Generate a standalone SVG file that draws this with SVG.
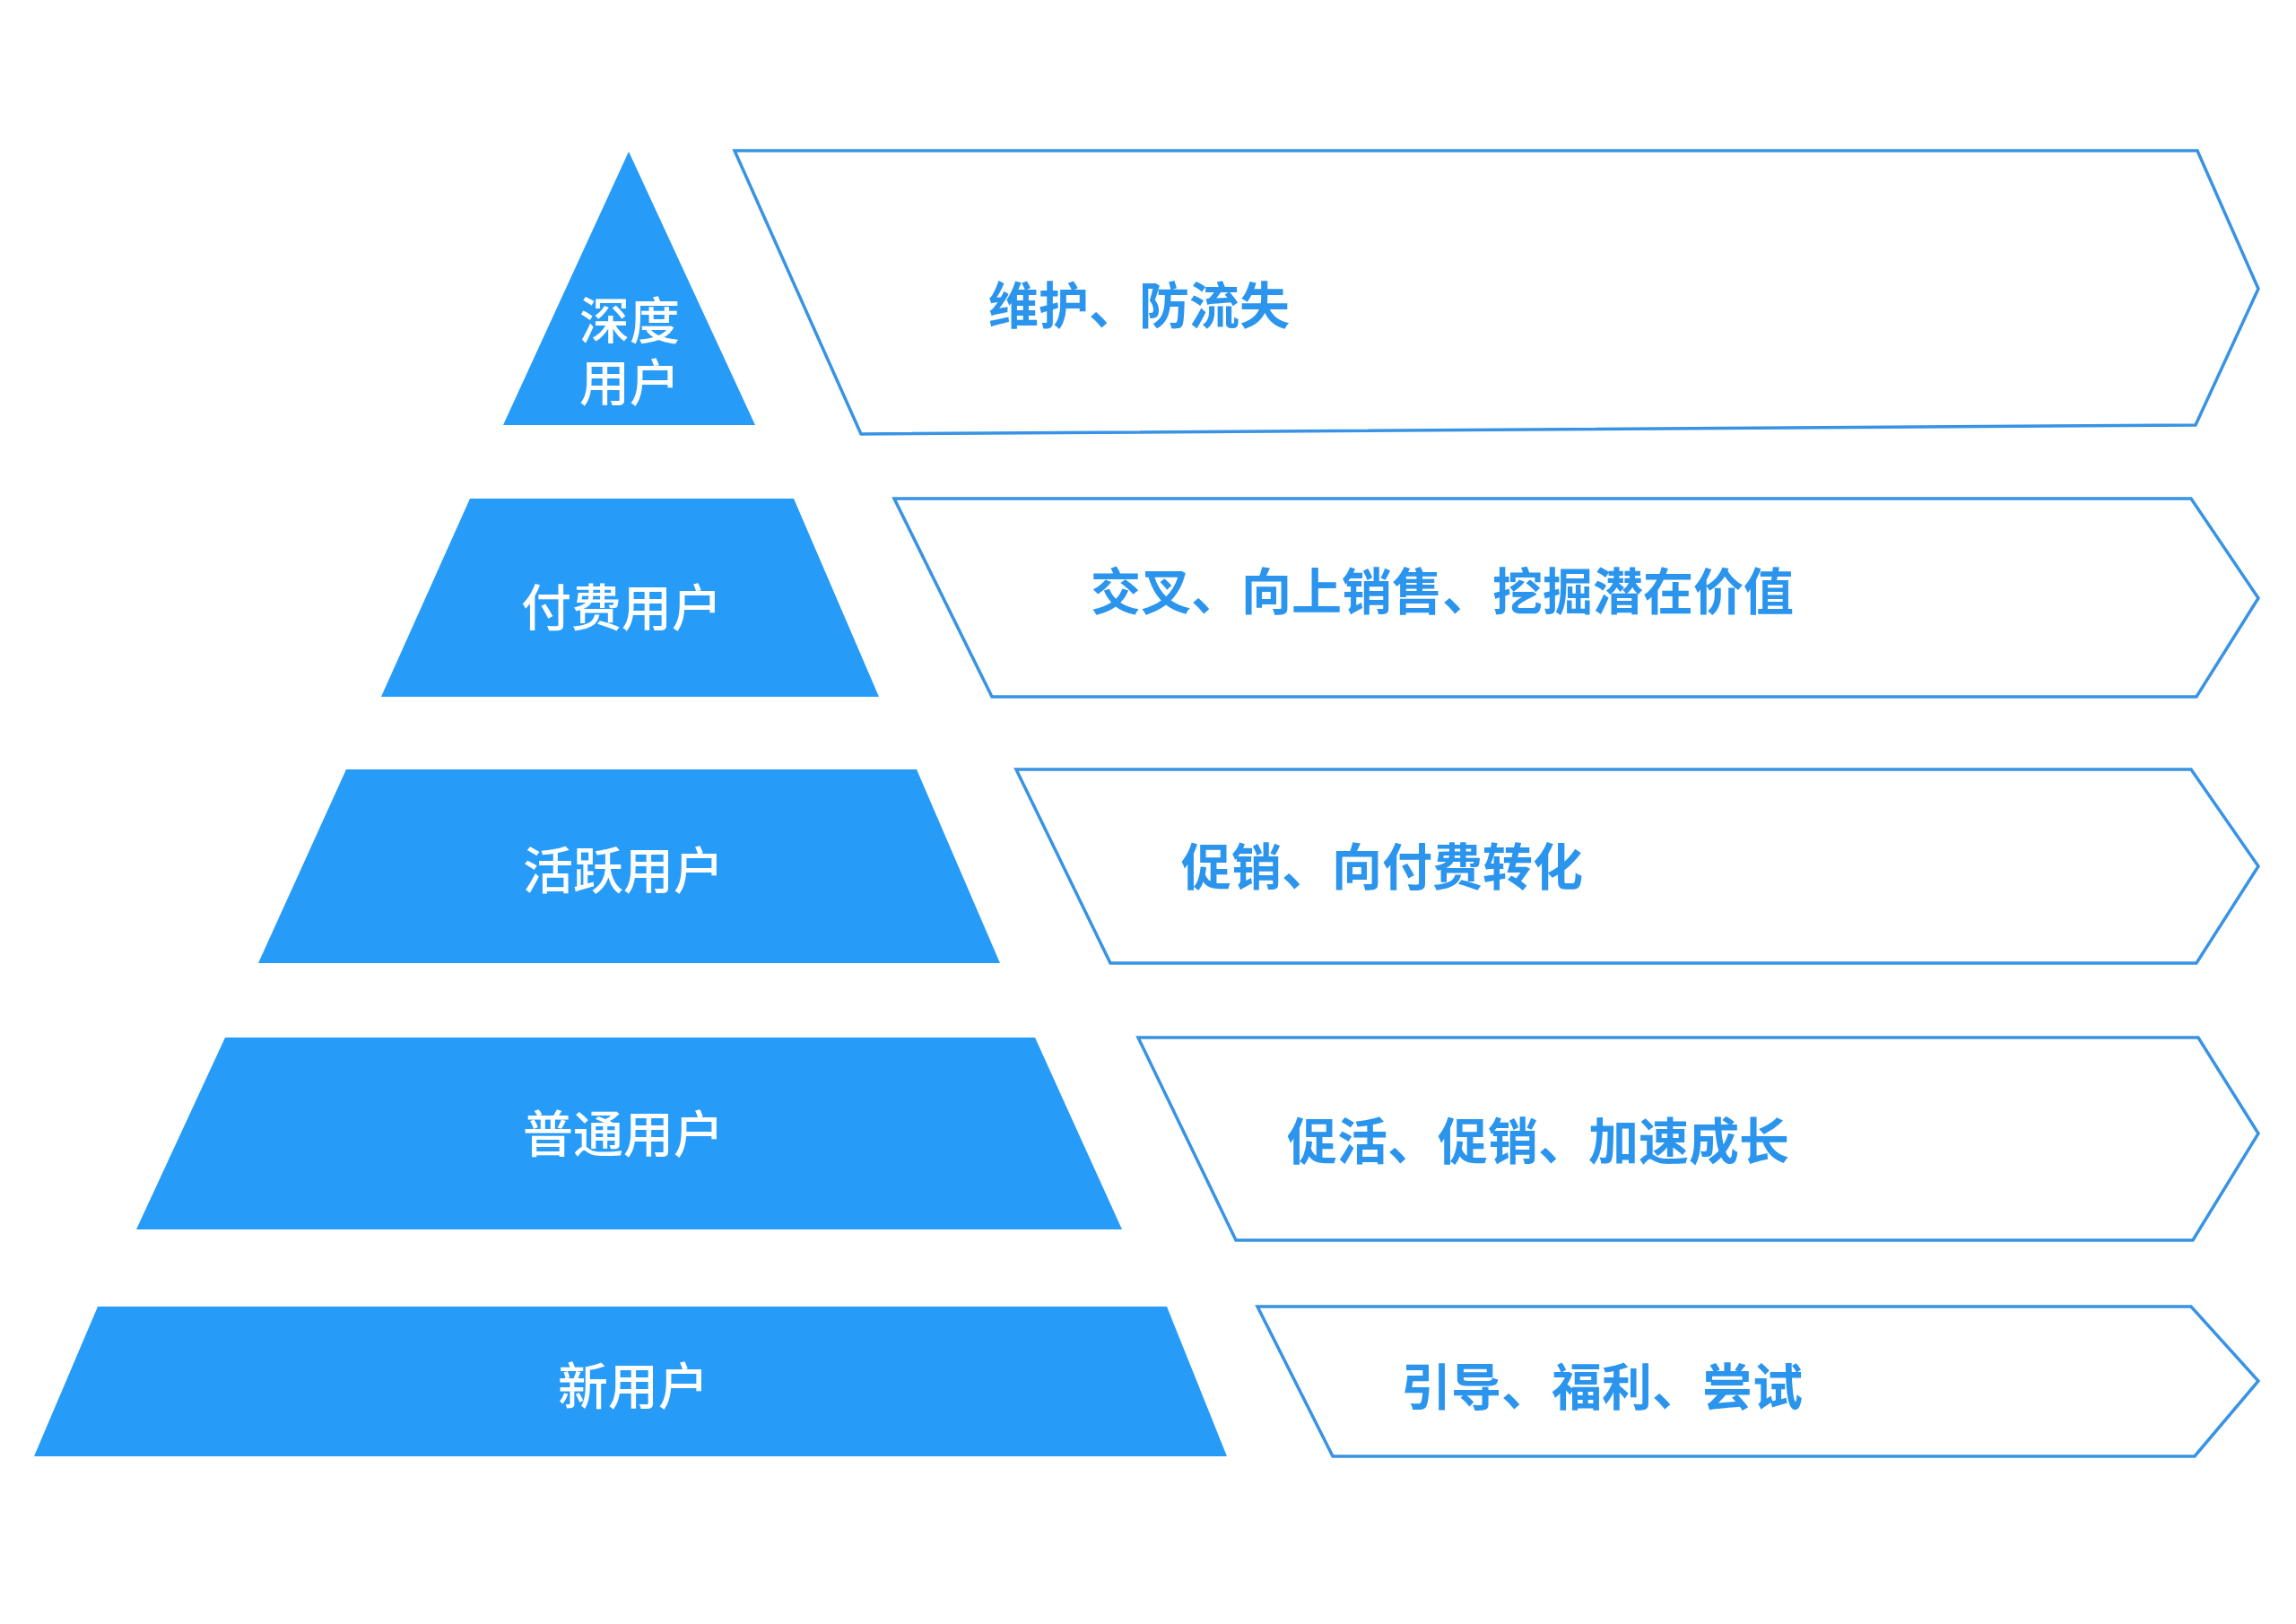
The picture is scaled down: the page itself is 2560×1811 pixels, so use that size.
<svg xmlns="http://www.w3.org/2000/svg" width="2560" height="1811" viewBox="0 0 2560 1811">
<style>
.tier{fill:#279BF8;}
.box{fill:#FFFFFF;stroke:#3893E4;stroke-width:3.5;stroke-linejoin:miter;}
.lbl{font-family:"Noto Sans CJK SC","Noto Sans",sans-serif;font-size:56px;font-weight:500;fill:#FFFFFF;text-anchor:middle;}
.act{font-family:"Noto Sans CJK SC","Noto Sans",sans-serif;font-size:56px;font-weight:700;fill:#2B95EE;}
</style>
<rect width="2560" height="1811" fill="#FFFFFF"/>
<g id="tier-deep">
<polygon class="tier" points="701,169 842,474 561,474"/>
<text class="lbl" x="702" y="378">深度<tspan x="702" dy="69">用户</tspan></text>
</g>
<g id="tier-paid">
<polygon class="tier" points="524,556 885,556 980,777 425,777"/>
<text class="lbl" x="693" y="698">付费用户</text>
</g>
<g id="tier-active">
<polygon class="tier" points="386,858 1022,858 1115,1074 288,1074"/>
<text class="lbl" x="695" y="991">活跃用户</text>
</g>
<g id="tier-normal">
<polygon class="tier" points="251,1157 1154,1157 1251,1371 152,1371"/>
<text class="lbl" x="695" y="1285">普通用户</text>
</g>
<g id="tier-new">
<polygon class="tier" points="109,1457 1301,1457 1368,1624 38,1624"/>
<text class="lbl" x="706" y="1566">新用户</text>
</g>
<g id="action-deep">
<polygon class="box" points="819,168 2450,168 2518,322 2448,474 960,484"/>
<text class="act" x="1102" y="361">维护、防流失</text>
</g>
<g id="action-paid">
<polygon class="box" points="997,556 2443,556 2518,667 2449,777 1106,777"/>
<text class="act" x="1216" y="680">交叉、向上销售、挖掘潜在价值</text>
</g>
<g id="action-active">
<polygon class="box" points="1133,858 2443,858 2518,966 2449,1074 1238,1074"/>
<text class="act" x="1317" y="987">促销、向付费转化</text>
</g>
<g id="action-normal">
<polygon class="box" points="1269,1157 2451,1157 2518,1264 2445,1383 1378,1383"/>
<text class="act" x="1435" y="1293">促活、促销、加速成长</text>
</g>
<g id="action-new">
<polygon class="box" points="1402,1457 2443,1457 2518,1540 2447,1624 1486,1624"/>
<text class="act" x="1562" y="1567">引导、福利、尝试</text>
</g>
<g id="connectors"></g>
</svg>
